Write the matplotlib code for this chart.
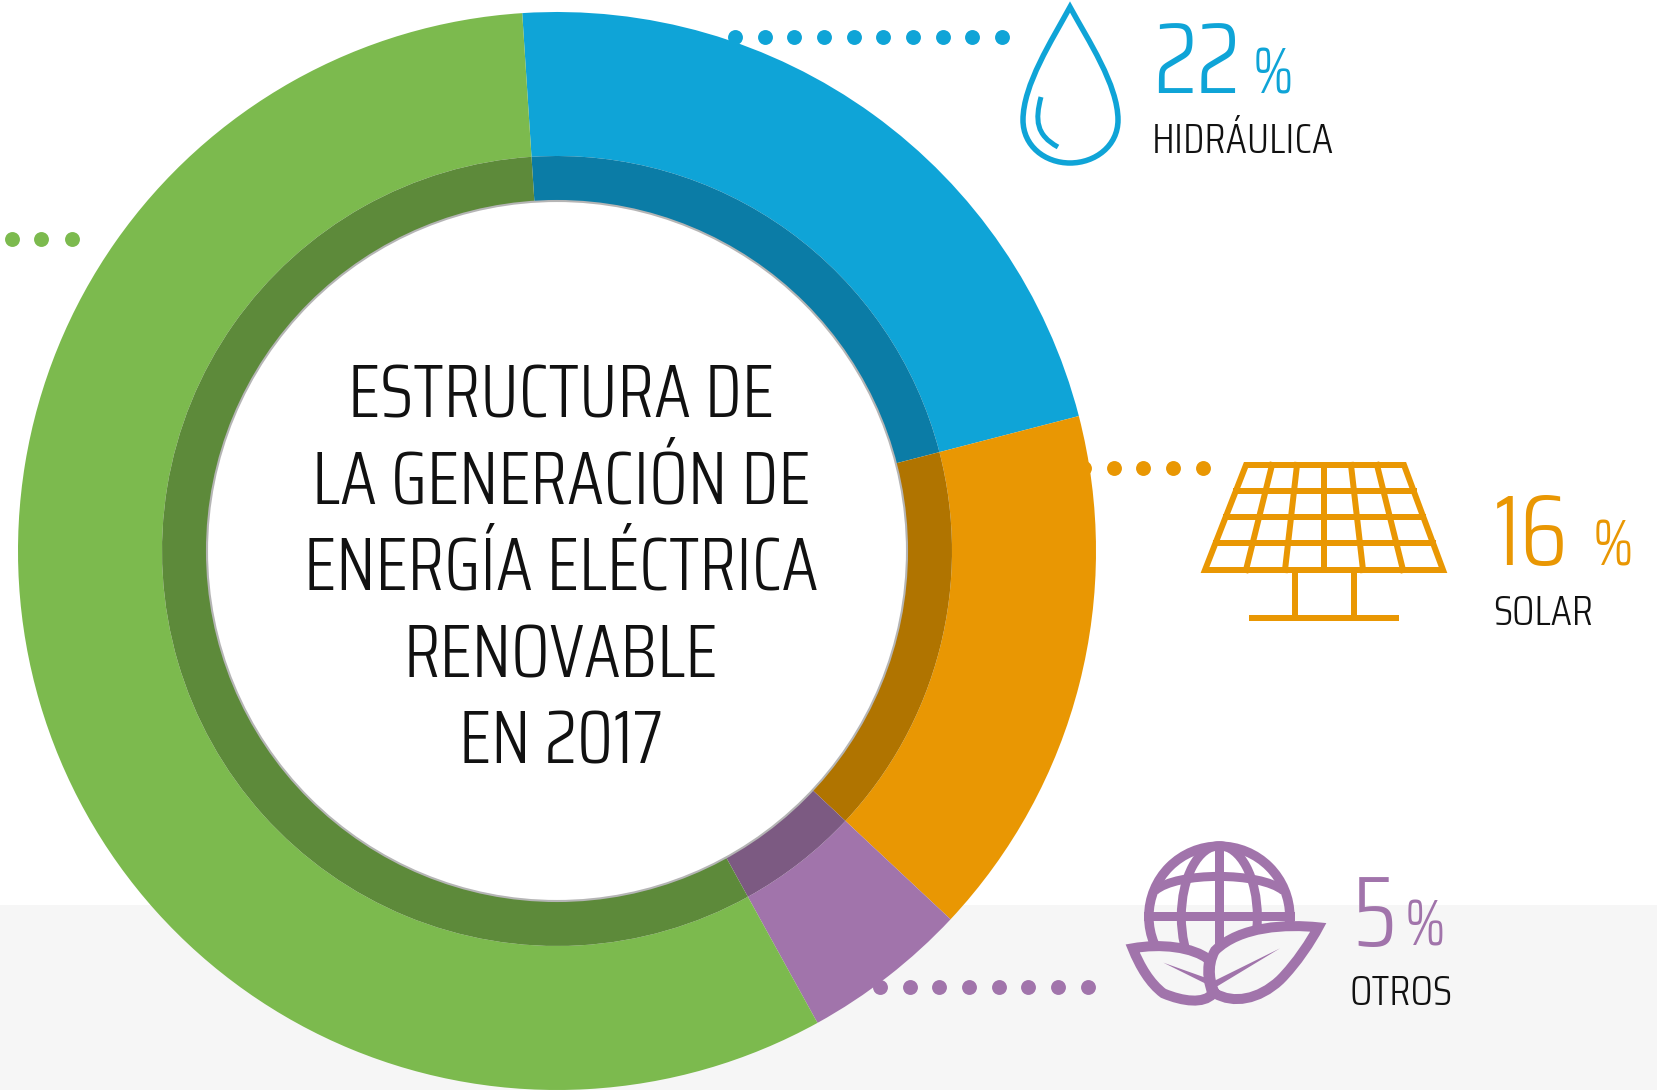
#!/usr/bin/env python3
# Estructura de la generacion de energia electrica renovable 2017 - donut + icons
import numpy as np
import matplotlib
matplotlib.use("Agg")
import matplotlib.pyplot as plt
from matplotlib.path import Path
from matplotlib.patches import PathPatch, Circle, Ellipse, Polygon

plt.rcParams["font.family"] = ["Saira Condensed", "Roboto Condensed", "Roboto", "DejaVu Sans"]
plt.rcParams["font.weight"] = 300

# ---- data -------------------------------------------------------------------
categories = ["HIDRÁULICA", "SOLAR", "OTROS", "EÓLICA"]
shares = [22, 16, 5, 57]
share_labels = ["22", "16", "5"]
colors = ["#0FA4D7", "#E99703", "#A174AB", "#7CBA4E"]
dark_colors = ["#0B7CA6", "#B07400", "#7C5A82", "#5D8A3A"]
title_lines = ["ESTRUCTURA DE", "LA GENERACIÓN DE", "ENERGÍA ELÉCTRICA", "RENOVABLE", "EN 2017"]

# ---- layout (pixels of the 1658x1090 picture) --------------------------------
W, H = 1658, 1090
CX, CY = 557, 551
R_OUT, R_DARK, R_IN = 539, 395, 350
START = 93.7
PX = 0.72   # points per pixel at dpi 100

fig = plt.figure(figsize=(W / 100, H / 100), dpi=100, facecolor="white")
ax = fig.add_axes([0, 0, 1, 1])
ax.axhspan(905, H, color="#F6F6F6", lw=0, zorder=0)

# y axis runs downward, so a "counterclock" pie ends up clockwise on screen
ax.pie(shares, colors=colors, startangle=-START, counterclock=True, center=(CX, CY),
       radius=R_OUT, wedgeprops=dict(width=R_OUT - R_DARK, linewidth=0, zorder=2))
ax.pie(shares, colors=dark_colors, startangle=-START, counterclock=True, center=(CX, CY),
       radius=R_DARK, wedgeprops=dict(width=R_DARK - R_IN, linewidth=0, zorder=2))
ax.add_patch(Circle((CX, CY), R_IN, fc="white", ec="#B5B5B5", lw=1.5, zorder=3))
ax.set_xlim(0, W)
ax.set_ylim(H, 0)
ax.set_aspect("auto")
ax.axis("off")

# dotted leaders
ax.scatter(735 + 29.66 * np.arange(10), [37] * 10, s=115, color=colors[0], lw=0, zorder=1)
ax.scatter(1084 + 29.75 * np.arange(5), [468] * 5, s=115, color=colors[1], lw=0, zorder=1)
ax.scatter(880 + 29.7 * np.arange(8), [987] * 8, s=115, color=colors[2], lw=0, zorder=4)
ax.scatter([12, 41, 72], [239] * 3, s=115, color=colors[3], lw=0, zorder=1)

# center title
for line, base in zip(title_lines, [417, 503, 590, 677, 763]):
    ax.text(561, base, line, fontsize=53.5, color="#111111", ha="center", va="baseline", zorder=5)


def label(x_num, x_pct, x_name, base_num, base_name, num, name, color):
    ax.text(x_num, base_num, num, fontsize=72, color=color, ha="left", va="baseline", zorder=5)
    ax.text(x_pct, base_num, "%", fontsize=47, color=color, ha="left", va="baseline", zorder=5)
    ax.text(x_name, base_name, name, fontsize=31, color="#111111", ha="left", va="baseline", zorder=5)


label(1153, 1253, 1152, 93, 153, share_labels[0], categories[0], colors[0])
label(1494, 1593, 1493, 565, 625, share_labels[1], categories[1], colors[1])
label(1352, 1405, 1350, 946, 1005, share_labels[2], categories[2], colors[2])


def curve(*segs, close=False):
    verts, codes = [segs[0]], [Path.MOVETO]
    for s in segs[1:]:
        verts.extend(s)
        codes.extend([Path.CURVE4] * 3)
    if close:
        verts.append(segs[0])
        codes.append(Path.CLOSEPOLY)
    return Path(verts, codes)


# ---- drop icon
c = colors[0]
ax.add_patch(PathPatch(curve((1070, 7),
                             [(1052, 40), (1023, 85), (1023, 120)],
                             [(1023, 146), (1045, 163), (1070, 163)],
                             [(1095, 163), (1118, 146), (1118, 120)],
                             [(1118, 85), (1088, 40), (1070, 7)], close=True),
                       fc="none", ec=c, lw=5.5 * PX, joinstyle="miter", zorder=5))
ax.add_patch(PathPatch(curve((1041, 97), [(1035, 120), (1036, 135), (1058, 147)]),
                       fc="none", ec=c, lw=5 * PX, capstyle="butt", zorder=5))

# ---- solar panel icon
c = colors[1]
top_y, bot_y = 465, 570
top_l, top_r, bot_l, bot_r = 1246, 1404, 1205, 1443
lw_s = 6 * PX
ax.add_patch(Polygon([(top_l, top_y), (top_r, top_y), (bot_r, bot_y), (bot_l, bot_y)],
                     closed=True, fc="none", ec=c, lw=lw_s, zorder=5))
for y in [491, 517, 543]:
    t = (y - top_y) / (bot_y - top_y)
    ax.plot([top_l + t * (bot_l - top_l), top_r + t * (bot_r - top_r)], [y, y], color=c, lw=lw_s, zorder=5)
for xt, xb in zip([1272, 1297, 1324, 1351, 1377], [1246, 1285, 1324, 1363, 1403]):
    ax.plot([xt, xb], [top_y, bot_y], color=c, lw=lw_s, zorder=5)
for x in [1295, 1354]:
    ax.plot([x, x], [bot_y, 618], color=c, lw=lw_s, zorder=5)
ax.plot([1249, 1399], [618, 618], color=c, lw=6 * PX, solid_capstyle="butt", zorder=5)


def z(x, y):
    return (1100 + x / 3, 820 + y / 3)


c = colors[2]
gx, gy = z(358, 290)
lw_g = 9.5 * PX
ax.add_patch(Circle((gx, gy), 70.5, fc="none", ec=c, lw=lw_g, zorder=5))
ax.add_patch(Ellipse((gx, gy), 76, 142, fc="none", ec=c, lw=9 * PX, zorder=5))
ax.plot([gx, gx], [gy - 71, gy + 60], color=c, lw=9 * PX, zorder=5)
ax.plot([gx - 71, gx + 71], [gy - 1, gy - 1], color=c, lw=9 * PX, zorder=5)
ax.add_patch(PathPatch(curve(z(165, 212), [z(230, 155), z(480, 155), z(550, 212)]),
                       fc="none", ec=c, lw=9 * PX, zorder=5))
right_leaf = curve(z(655, 322),
                   [z(560, 312), z(420, 318), z(345, 392)],
                   [z(318, 440), z(332, 495), z(345, 520)],
                   [z(400, 552), z(475, 540), z(540, 480)],
                   [z(590, 430), z(635, 360), z(655, 322)], close=True)
left_leaf = curve(z(98, 385),
                  [z(180, 370), z(280, 380), z(328, 420)],
                  [z(320, 460), z(328, 495), z(338, 522)],
                  [z(310, 552), z(250, 545), z(190, 520)],
                  [z(150, 490), z(120, 440), z(98, 385)], close=True)
for leaf in [left_leaf, right_leaf]:
    ax.add_patch(PathPatch(leaf, fc="#F6F6F6", ec=c, lw=10 * PX, joinstyle="miter", zorder=6))
ax.add_patch(Polygon([z(540, 385), z(342, 483), z(350, 500)], fc=c, ec="none", zorder=7))
ax.add_patch(Polygon([z(190, 428), z(330, 478), z(325, 495)], fc=c, ec="none", zorder=7))

fig.savefig("out.png", dpi=100, facecolor="white")
